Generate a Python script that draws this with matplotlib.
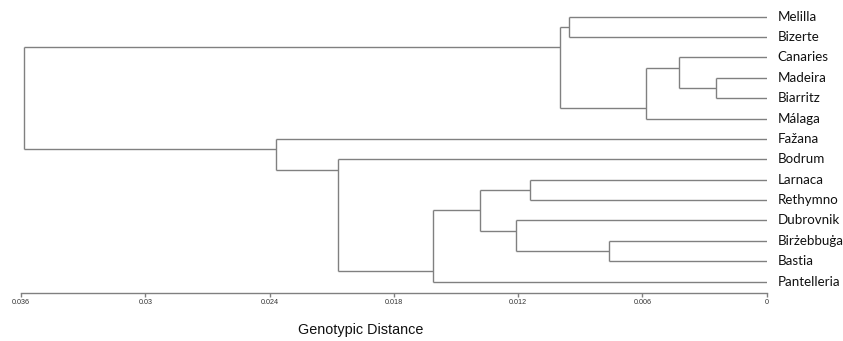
import matplotlib
matplotlib.use("Agg")
import matplotlib.pyplot as plt

# -----------------------------------------------------------------------------
# Data: leaf order (top to bottom) and merges (left child, right child, height)
# children are leaf names (str) or indices of earlier merges (int)
# -----------------------------------------------------------------------------
leaves = ["Melilla", "Bizerte", "Canaries", "Madeira", "Biarritz", "Málaga",
          "Fažana", "Bodrum", "Larnaca", "Rethymno", "Dubrovnik",
          "Birżebbuġa", "Bastia", "Pantelleria"]

merge_left = ["Melilla", "Madeira", "Canaries", 2, 0,
              "Larnaca", "Birżebbuġa", "Dubrovnik", 5, 8, "Bodrum", "Fažana", 4]
merge_right = ["Bizerte", "Biarritz", 1, "Málaga", 3,
               "Rethymno", "Bastia", 6, 7, "Pantelleria", 9, 10, 11]
merge_height = [0.00953, 0.00245, 0.00422, 0.00585, 0.00999,
                0.01143, 0.0076, 0.0121, 0.01384, 0.01612, 0.02071, 0.02367, 0.03585]

xticks = [0.036, 0.03, 0.024, 0.018, 0.012, 0.006, 0.0]
xtick_labels = ["0.036", "0.03", "0.024", "0.018", "0.012", "0.006", "0"]

# -----------------------------------------------------------------------------
# Layout helpers
# -----------------------------------------------------------------------------
leaf_pos = {name: i for i, name in enumerate(leaves)}
span = {}   # node -> (first leaf index, last leaf index)
conn = {}   # node -> (x, y) where the branch attaches to its parent


def child_info(c):
    if isinstance(c, str):
        i = leaf_pos[c]
        return (i, i), (0.0, float(i))
    return span[c], conn[c]


line_color = "#808080"
fig = plt.figure(figsize=(8.43, 3.41), dpi=100)
W, H = 843, 341
x_left, x_right, y_axis = 21, 766.7, 292.7
ax = fig.add_axes([x_left / W, (H - y_axis) / H, (x_right - x_left) / W, y_axis / H])

for k, (l, r, h) in enumerate(zip(merge_left, merge_right, merge_height)):
    (ls, lc), (rs, rc) = child_info(l), child_info(r)
    span[k] = (ls[0], rs[1])
    # node attaches at the boundary between its two children
    conn[k] = (h, (ls[1] + rs[0]) / 2)
    ax.plot([h, h], [lc[1], rc[1]], color=line_color, lw=1.0, solid_capstyle="butt")
    ax.plot([lc[0], h], [lc[1], lc[1]], color=line_color, lw=1.0, solid_capstyle="butt")
    ax.plot([rc[0], h], [rc[1], rc[1]], color=line_color, lw=1.0, solid_capstyle="butt")

for name, i in leaf_pos.items():
    ax.annotate(name, xy=(0, i), xytext=(8.0, 0), textcoords="offset points",
                va="center", ha="left", fontsize=9.6,
                family=["Lato", "DejaVu Sans"], color="#111111")

# -----------------------------------------------------------------------------
# Axis styling
# -----------------------------------------------------------------------------
ax.set_xlim(0.036, 0.0)
ax.set_ylim((y_axis - 16.7) / 20.38, -16.7 / 20.38)
for s in ["top", "left", "right"]:
    ax.spines[s].set_visible(False)
ax.spines["bottom"].set_color(line_color)
ax.spines["bottom"].set_linewidth(1.0)
ax.set_yticks([])
ax.set_xticks(xticks)
ax.set_xticklabels(xtick_labels, fontsize=5.2, family="Liberation Sans", color="#333333")
ax.tick_params(axis="x", direction="out", length=3, width=1.0, color=line_color, pad=1.5)

fig.text(360.7 / W, 1 - 330 / H, "Genotypic Distance", ha="center", va="center",
         fontsize=10.4, family="Liberation Sans", color="#111111")

fig.savefig("out.png", dpi=100, facecolor="white")
